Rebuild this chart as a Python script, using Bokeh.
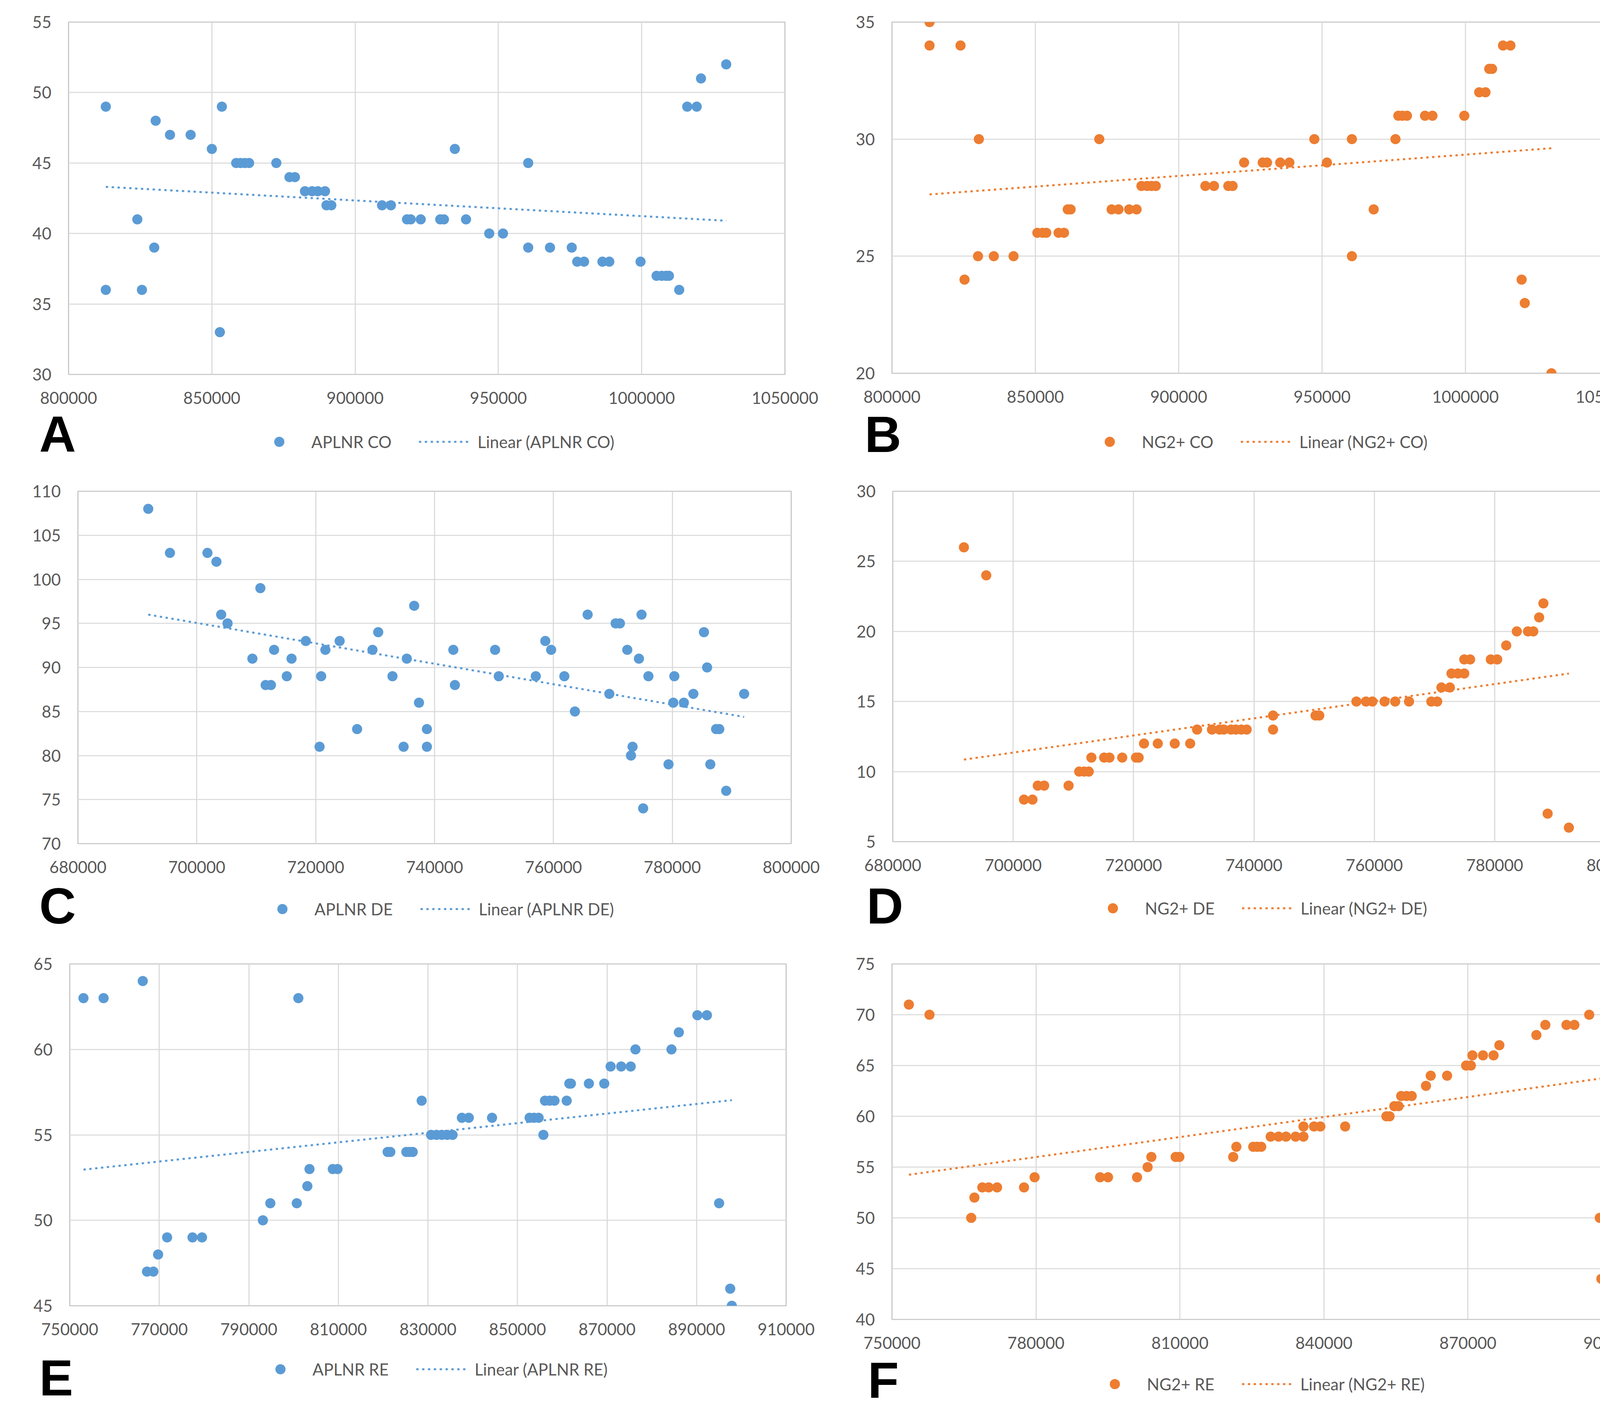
import numpy as np
from bokeh.plotting import figure
from bokeh.layouts import column, row
from bokeh.models import Legend, LegendItem, Label, FixedTicker, NumeralTickFormatter, Range1d
from bokeh.embed import file_html
from bokeh.resources import INLINE

BLUE = "#5B9BD5"
ORANGE = "#ED7D31"

# ---------------- Panel A : APLNR CO ----------------
a_x = [813000, 813000, 824000, 825600, 829900, 830400, 835400, 842600, 850000, 853500,
       852800, 858500, 860000, 861500, 863000, 872500, 877100, 879000, 882500, 885000,
       887000, 889500, 890000, 891700, 909400, 912500, 918100, 919400, 922900, 929700,
       931000, 934800, 938700, 946800, 951600, 960400, 960400, 968000, 975600, 977500,
       979900, 986300, 988700, 999600, 1005200, 1007000, 1008500, 1009500, 1013100, 1015900,
       1019200, 1020700, 1029500]
a_y = [49, 36, 41, 36, 39, 48, 47, 47, 46, 49,
       33, 45, 45, 45, 45, 45, 44, 44, 43, 43,
       43, 43, 42, 42, 42, 42, 41, 41, 41, 41,
       41, 46, 41, 40, 40, 45, 39, 39, 39, 38,
       38, 38, 38, 38, 37, 37, 37, 37, 36, 49,
       49, 51, 52]

# ---------------- Panel B : NG2+ CO ----------------
b_x = [813100, 813100, 823900, 825300, 830000, 830300, 835500, 842400, 850700, 852500,
       853800, 858100, 860000, 861300, 862300, 872300, 876600, 879000, 882700, 885300,
       887000, 889000, 890500, 892000, 909300, 912300, 917300, 918800, 922800, 929300,
       930800, 935400, 938600, 947300, 951700, 960400, 960400, 968000, 975600, 976600,
       978000, 979600, 985900, 988500, 999600, 1004800, 1007000, 1008300, 1009300, 1013100,
       1015700, 1019600, 1020700, 1030000]
b_y = [35, 34, 34, 24, 25, 30, 25, 25, 26, 26,
       26, 26, 26, 27, 27, 30, 27, 27, 27, 27,
       28, 28, 28, 28, 28, 28, 28, 28, 29, 29,
       29, 29, 29, 30, 29, 30, 25, 27, 30, 31,
       31, 31, 31, 31, 31, 32, 32, 33, 33, 34,
       34, 24, 23, 20]

# ---------------- Panel C : APLNR DE ----------------
c_x = [691830, 695480, 701790, 703300, 704100, 705170, 709350, 710690, 711580, 712470,
       713000, 715140, 715940, 718340, 720650, 720920, 721630, 724030, 726970, 729550,
       730520, 732920, 734790, 735330, 736570, 737380, 738710, 738710, 743150, 743420,
       750180, 750800, 757030, 758630, 759610, 761830, 763610, 765750, 769400, 770460,
       771180, 772420, 773040, 773310, 774380, 774820, 775090, 775980, 779360, 780160,
       780340, 781940, 783540, 785320, 785850, 786390, 787360, 787900, 789060, 792080]
c_y = [108, 103, 103, 102, 96, 95, 91, 99, 88, 88,
       92, 89, 91, 93, 81, 89, 92, 93, 83, 92,
       94, 89, 81, 91, 97, 86, 83, 81, 92, 88,
       92, 89, 89, 93, 92, 89, 85, 96, 87, 95,
       95, 92, 80, 81, 91, 96, 74, 89, 79, 86,
       89, 86, 87, 94, 90, 79, 83, 83, 76, 87]

# ---------------- Panel D : NG2+ DE ----------------
d_x = [691820, 695530, 701800, 703210, 704090, 705150, 709210, 710970, 711800, 712560,
       713000, 715120, 716000, 718120, 720410, 720850, 721740, 724030, 726850, 729410,
       730560, 733030, 734300, 735000, 736200, 737000, 737900, 738800, 743180, 743180,
       750240, 750860, 757030, 758620, 759680, 761710, 763470, 765770, 769480, 770450,
       771150, 772560, 772830, 773900, 774950, 774950, 775920, 779360, 780420, 781920,
       783680, 785540, 786420, 787390, 788100, 788800, 792330]
d_y = [26, 24, 8, 8, 9, 9, 9, 10, 10, 10,
       11, 11, 11, 11, 11, 11, 12, 12, 12, 12,
       13, 13, 13, 13, 13, 13, 13, 13, 14, 13,
       14, 14, 15, 15, 15, 15, 15, 15, 15, 15,
       16, 16, 17, 17, 17, 18, 18, 18, 18, 19,
       20, 20, 20, 21, 22, 7, 6]

# ---------------- Panel E : APLNR RE ----------------
e_x = [753070, 757560, 766310, 767260, 768680, 769740, 771750, 777420, 779550, 793140,
       794800, 800710, 801060, 803070, 803550, 808750, 809810, 821000, 821600, 825180,
       825900, 826600, 828600, 830700, 831900, 833100, 834300, 835500, 837580, 839120,
       844320, 852710, 853700, 854720, 855790, 856140, 857200, 858270, 860990, 861580,
       861930, 865950, 869380, 870800, 873160, 875290, 876350, 884390, 886040, 890180,
       892310, 895030, 897510, 897870]
e_y = [63, 63, 64, 47, 47, 48, 49, 49, 49, 50,
       51, 51, 63, 52, 53, 53, 53, 54, 54, 54,
       54, 54, 57, 55, 55, 55, 55, 55, 56, 56,
       56, 56, 56, 56, 55, 57, 57, 57, 57, 58,
       58, 58, 58, 59, 59, 59, 60, 60, 61, 62,
       62, 51, 46, 45]

# ---------------- Panel F : NG2+ RE ----------------
f_x = [753520, 757810, 766510, 767170, 768820, 770140, 771900, 777510, 779710, 793360,
       795010, 801060, 803260, 804040, 809100, 809870, 821090, 821750, 825270, 826100,
       826930, 828900, 830550, 832100, 834080, 835730, 835730, 837930, 839250, 844420,
       853010, 853670, 854660, 855540, 856090, 857200, 858290, 861260, 862250, 865660,
       869620, 870610, 870940, 873140, 875340, 876550, 884260, 886130, 890530, 892180,
       895270, 897470, 897800]
f_y = [71, 70, 50, 52, 53, 53, 53, 53, 54, 54,
       54, 54, 55, 56, 56, 56, 56, 57, 57, 57,
       57, 58, 58, 58, 58, 58, 59, 59, 59, 59,
       60, 60, 61, 61, 62, 62, 62, 63, 64, 64,
       65, 65, 66, 66, 66, 67, 68, 69, 69, 69,
       70, 50, 44]

# axis ticks
a_xticks = [800000, 850000, 900000, 950000, 1000000, 1050000]
a_yticks = [30, 35, 40, 45, 50, 55]
b_yticks = [20, 25, 30, 35]
c_xticks = [680000, 700000, 720000, 740000, 760000, 780000, 800000]
c_yticks = [70, 75, 80, 85, 90, 95, 100, 105, 110]
d_yticks = [5, 10, 15, 20, 25, 30]
e_xticks = [750000, 770000, 790000, 810000, 830000, 850000, 870000, 890000, 910000]
e_yticks = [45, 50, 55, 60, 65]
f_xticks = [750000, 780000, 810000, 840000, 870000, 900000]
f_yticks = [40, 45, 50, 55, 60, 65, 70, 75]

TEXT = "#595959"
FONT = "Lato"
LABEL_BAND = 100  # space under each frame for the x tick labels


def chart(xs, ys, color, xticks, yticks, left, fw, right, top, fh, height):
    p = figure(title=None, frame_width=fw, frame_height=fh,
               min_border_left=left, min_border_right=right,
               min_border_top=top, min_border_bottom=height - top - fh,
               x_range=Range1d(xticks[0], xticks[-1]),
               y_range=Range1d(yticks[0], yticks[-1]),
               output_backend="svg", toolbar_location=None)
    p.xaxis.ticker = FixedTicker(ticks=xticks)
    p.yaxis.ticker = FixedTicker(ticks=yticks)
    p.xaxis.formatter = NumeralTickFormatter(format="0")
    p.yaxis.formatter = NumeralTickFormatter(format="0")
    for ax in (p.xaxis, p.yaxis):
        ax.axis_line_color = None
        ax.major_tick_line_color = None
        ax.minor_tick_line_color = None
        ax.major_tick_out = 0
        ax.major_tick_in = 0
        ax.minor_tick_out = 0
        ax.major_label_text_font = FONT
        ax.major_label_text_font_size = "42px"
        ax.major_label_text_color = TEXT
    p.xaxis.major_label_standoff = 44
    p.yaxis.major_label_standoff = 44
    p.grid.grid_line_color = "#d9d9d9"
    p.grid.grid_line_width = 2.7
    p.outline_line_color = "#c4c4c4"
    p.outline_line_width = 2.7

    p.scatter(xs, ys, size=26, fill_color=color, line_color=None)
    k, b = np.polyfit(np.array(xs, float), np.array(ys, float), 1)
    xt = np.array([min(xs), max(xs)], float)
    p.line(xt, k * xt + b, line_color=color, line_width=5, line_dash="6 9")
    return p


def strip(color, name, letter, width, height, leg, let):
    s = figure(title=None, frame_width=width, frame_height=height, min_border=0,
               x_range=Range1d(0, width), y_range=Range1d(0, height),
               x_axis_location=None, y_axis_location=None,
               output_backend="svg", toolbar_location=None)
    s.outline_line_color = None
    s.grid.visible = False
    # legend keys only (no visible data point)
    r1 = s.scatter([np.nan], [np.nan], size=26, fill_color=color, line_color=None)
    r2 = s.line([np.nan, np.nan], [np.nan, np.nan], line_color=color, line_width=5,
                line_dash="6 9")
    legend = Legend(items=[LegendItem(label=name, renderers=[r1]),
                           LegendItem(label="Linear (" + name + ")", renderers=[r2])],
                    location=leg, orientation="horizontal",
                    glyph_width=135, glyph_height=65, label_standoff=15, spacing=70,
                    padding=0, margin=0, border_line_color=None,
                    background_fill_alpha=0,
                    label_text_font=FONT, label_text_font_size="42px",
                    label_text_color=TEXT)
    s.add_layout(legend)
    s.add_layout(Label(x=let[0], y=let[1], x_units="screen", y_units="screen",
                       text=letter, text_font="Liberation Sans", text_font_style="bold",
                       text_font_size="130px", text_color="black",
                       text_baseline="middle"))
    return s


LW, RW = 2112, 2108            # column widths
H1, H2, H3 = 1192, 1200, 1222  # row heights
M1, M2, M3 = 56 + 902 + LABEL_BAND, 65 + 902 + LABEL_BAND, 75 + 910 + LABEL_BAND

pA = chart(a_x, a_y, BLUE, a_xticks, a_yticks, 175, 1834, 103, 56, 902, M1)
pB = chart(b_x, b_y, ORANGE, a_xticks, b_yticks, 171, 1835, 102, 56, 899, M1)
sA = strip(BLUE, "APLNR CO", "A", LW, H1 - M1, (647, 29), (100, 82))
sB = strip(ORANGE, "NG2+ CO", "B", RW, H1 - M1, (661, 29), (101, 81))

pC = chart(c_x, c_y, BLUE, c_xticks, c_yticks, 199, 1826, 87, 65, 902, M2)
pD = chart(d_x, d_y, ORANGE, c_xticks, d_yticks, 173, 1849, 86, 65, 897, M2)
sC = strip(BLUE, "APLNR DE", "C", LW, H2 - M2, (655, 33), (100, 74))
sD = strip(ORANGE, "NG2+ DE", "D", RW, H2 - M2, (669, 35), (106, 74))

pE = chart(e_x, e_y, BLUE, e_xticks, e_yticks, 178, 1834, 100, 75, 875, M3)
pF = chart(f_x, f_y, ORANGE, f_xticks, f_yticks, 171, 1843, 94, 75, 910, M3)
sE = strip(BLUE, "APLNR RE", "E", LW, H3 - M3, (650, 77), (100, 88))
sF = strip(ORANGE, "NG2+ RE", "F", RW, H3 - M3, (674, 39), (109, 82))

layout = column(row(pA, pB), row(sA, sB), row(pC, pD), row(sC, sD),
                row(pE, pF), row(sE, sF))
open("out.html", "w").write(file_html(layout, INLINE))
